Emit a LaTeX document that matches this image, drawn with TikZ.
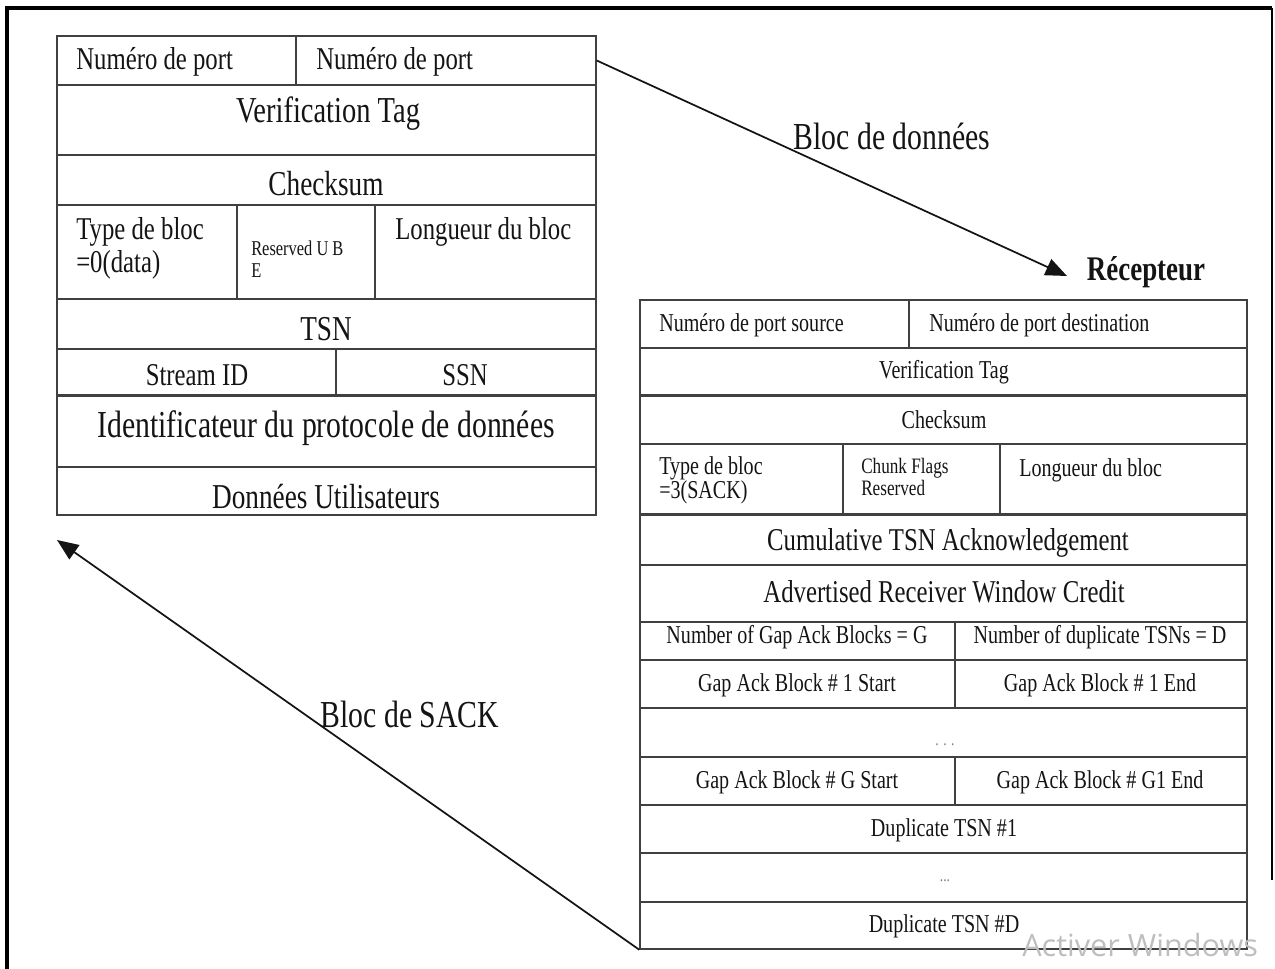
\documentclass[tikz,border=0pt]{standalone}
\usepackage{fontspec}
\setmainfont{Liberation Serif}[FakeStretch=0.78]
\newfontfamily\wmfont{Open Sans}
\usetikzlibrary{arrows.meta,fit}
\definecolor{rule}{HTML}{404040}
\definecolor{ink}{HTML}{141414}
\definecolor{wm}{HTML}{BEBEBE}
\definecolor{dots}{HTML}{7A7A7A}

\begin{document}
\begin{tikzpicture}[x=0.75pt,y=-0.75pt,
  cell/.style={draw=rule,line width=1.1pt,inner sep=0pt},
  heavy/.style={draw=rule,line width=2.2pt},
  txt/.style={inner sep=0pt,text=ink},
  fsmall/.style={font=\fontsize{23.8}{24.8}\selectfont},
  fvt/.style={font=\fontsize{27.4}{30}\selectfont},
  fmid/.style={font=\fontsize{26.2}{30}\selectfont},
  fbig/.style={font=\fontsize{28.6}{32}\selectfont},
  ftiny/.style={font=\fontsize{15.8}{16.3}\selectfont},
  frs/.style={font=\fontsize{19.3}{18}\selectfont},
  frb/.style={font=\fontsize{23.8}{26}\selectfont},
  fcf/.style={font=\fontsize{16.5}{16.5}\selectfont},
  fdots/.style={font=\fontsize{13}{13}\selectfont,text=dots},
  conn/.style={draw=ink,line width=1.3pt,-{Triangle[length=16pt,width=13pt]}}
]
\useasboundingbox (0,0) rectangle (1275,969);

% frame
\draw[line width=3pt] (7,969) -- (7,8) -- (1272,8);
\draw[line width=1.5pt] (1272,8) -- (1272,880);

% ---------- sender: DATA chunk ----------
\node[cell,fit={(57,36) (296,85)}] (l1a) {};
\node[cell,fit={(296,36) (596,85)}] (l1b) {};
\node[cell,fit={(57,85) (596,155)}] (l2) {};
\node[cell,fit={(57,155) (596,205)}] (l3) {};
\node[cell,fit={(57,205) (237,299)}] (l4a) {};
\node[cell,fit={(237,205) (375,299)}] (l4b) {};
\node[cell,fit={(375,205) (596,299)}] (l4c) {};
\node[cell,fit={(57,299) (596,349)}] (l5) {};
\node[cell,fit={(57,349) (336,396)}] (l6a) {};
\node[cell,fit={(336,349) (596,396)}] (l6b) {};
\node[cell,fit={(57,396) (596,467)}] (l7) {};
\node[cell,fit={(57,467) (596,515)}] (l8) {};
\draw[heavy] (l7.north west) -- (l7.north east);

\node[txt,fsmall,anchor=west] (t-l1a) at (76,62) {Numéro de port};
\node[txt,fsmall,anchor=west] (t-l1b) at (316,62) {Numéro de port};
\node[txt,fvt] (t-l2) at (328,114) {Verification Tag};
\node[txt,fmid] (t-l3) at (326,184) {Checksum};
\node[txt,fsmall,anchor=west,align=left] (t-l4a) at (76,248) {Type de bloc\\=0(data)};
\node[txt,ftiny,anchor=west,align=left] (t-l4b) at (251,259) {Reserved U B\\E};
\node[txt,fsmall,anchor=west] (t-l4c) at (395,232) {Longueur du bloc};
\node[txt,fmid] (t-l5) at (326,329) {TSN};
\node[txt,fsmall] (t-l6a) at (197,375) {Stream ID};
\node[txt,fsmall] (t-l6b) at (465,375) {SSN};
\node[txt,fbig] (t-l7) at (326,428) {Identificateur du protocole de données};
\node[txt,fmid] (t-l8) at (326,497) {Données Utilisateurs};

% ---------- receiver: SACK chunk ----------
\node[cell,fit={(640,300) (909,348)}] (r1a) {};
\node[cell,fit={(909,300) (1247,348)}] (r1b) {};
\node[cell,fit={(640,348) (1247,396)}] (r2) {};
\node[cell,fit={(640,396) (1247,444)}] (r3) {};
\node[cell,fit={(640,444) (843,515)}] (r4a) {};
\node[cell,fit={(843,444) (1000,515)}] (r4b) {};
\node[cell,fit={(1000,444) (1247,515)}] (r4c) {};
\node[cell,fit={(640,515) (1247,565)}] (r5) {};
\node[cell,fit={(640,565) (1247,622)}] (r6) {};
\node[cell,fit={(640,622) (955,660)}] (r7a) {};
\node[cell,fit={(955,622) (1247,660)}] (r7b) {};
\node[cell,fit={(640,660) (955,708)}] (r8a) {};
\node[cell,fit={(955,660) (1247,708)}] (r8b) {};
\node[cell,fit={(640,708) (1247,757)}] (r9) {};
\node[cell,fit={(640,757) (955,805)}] (r10a) {};
\node[cell,fit={(955,757) (1247,805)}] (r10b) {};
\node[cell,fit={(640,805) (1247,853)}] (r11) {};
\node[cell,fit={(640,853) (1247,902)}] (r12) {};
\node[cell,fit={(640,902) (1247,949)}] (r13) {};
\draw[heavy] (r3.north west) -- (r3.north east);
\draw[heavy] (r5.north west) -- (r5.north east);

\node[txt,frs,anchor=west] (t-r1a) at (659,325) {Numéro de port source};
\node[txt,frs,anchor=west] (t-r1b) at (929,325) {Numéro de port destination};
\node[txt,frs] (t-r2) at (944,372) {Verification Tag};
\node[txt,frs] (t-r3) at (944,420) {Checksum};
\node[txt,frs,anchor=west,align=left] (t-r4a) at (659,480) {Type de bloc\\=3(SACK)};
\node[txt,fcf,anchor=west,align=left] (t-r4b) at (861,477) {Chunk Flags\\Reserved};
\node[txt,frs,anchor=west] (t-r4c) at (1019,470) {Longueur du bloc};
\node[txt,frb] (t-r5) at (948,543) {Cumulative TSN Acknowledgement};
\node[txt,frb] (t-r6) at (944,592) {Advertised Receiver Window Credit};
\node[txt,frs] (t-r7a) at (797,637) {Number of Gap Ack Blocks = G};
\node[txt,frs] (t-r7b) at (1100,637) {Number of duplicate TSNs = D};
\node[txt,frs] (t-r8a) at (797,685) {Gap Ack Block \# 1 Start};
\node[txt,frs] (t-r8b) at (1100,685) {Gap Ack Block \# 1 End};
\node[txt,fdots] (t-r9) at (945,745) {. . .};
\node[txt,frs] (t-r10a) at (797,782) {Gap Ack Block \# G Start};
\node[txt,frs] (t-r10b) at (1100,782) {Gap Ack Block \# G1 End};
\node[txt,frs] (t-r11) at (944,830) {Duplicate TSN \#1};
\node[txt,fdots] (t-r12) at (945,881) {...};
\node[txt,frs] (t-r13) at (944,926) {Duplicate TSN \#D};

% ---------- exchanges ----------
\coordinate (dataend) at (1067,276);
\coordinate (sackend) at (57,540);
\draw[conn] (l1b.east) -- (dataend);
\draw[conn] (r13.south west) -- (sackend);
\node[txt,fbig] (lab-data) at (892,136) {Bloc de données};
\node[txt,fbig] (lab-sack) at (410,714) {Bloc de SACK};
\node[txt,font=\bfseries\fontsize{25.9}{28}\selectfont] (recv) at (1146,272) {Récepteur};

% system watermark
\node[inner sep=0pt,text=wm,font=\wmfont\fontsize{23}{23}\selectfont,anchor=west] (wmark) at (1022,945) {Activer Windows};
\end{tikzpicture}
\end{document}
